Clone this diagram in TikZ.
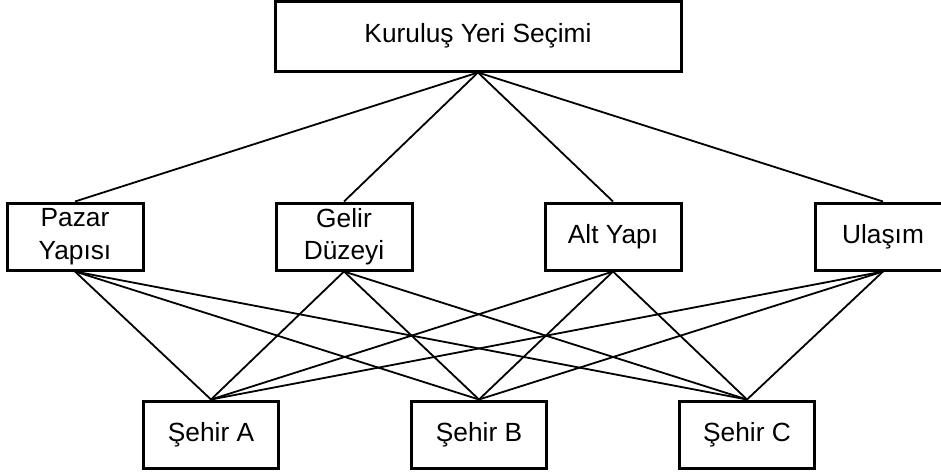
\documentclass[tikz,border=0pt]{standalone}
\usepackage{fontspec}
\setmainfont{Liberation Sans}
\begin{document}
\begin{tikzpicture}[x=1pt,y=-1pt,
  box/.style={draw=black, line width=3pt, rectangle, inner sep=0pt, align=center,
    font=\fontsize{26.3}{32.5}\selectfont, fill=white},
  topbox/.style={box, minimum width=406pt, minimum height=69.5pt},
  midbox/.style={box, minimum width=136pt, minimum height=67pt},
  botbox/.style={box, minimum width=135pt, minimum height=67pt},
  link/.style={draw=black, line width=1.8pt}]
\useasboundingbox (0,0) rectangle (941,472);
\fill[white] (0,0) rectangle (941,472);

\node[topbox] (top) at (478,36.25) {Kuruluş Yeri Seçimi};

\node[midbox] (pazar) at (75,236.5) {Pazar\\Yapısı};
\node[midbox] (gelir) at (344,236.5) {Gelir\\Düzeyi};
\node[midbox] (alt) at (613,236.5) {Alt Yapı};
\node[midbox] (ulasim) at (883,236.5) {Ulaşım};

\node[botbox] (a) at (211,434.5) {Şehir A};
\node[botbox] (b) at (479,434.5) {Şehir B};
\node[botbox] (c) at (747,434.5) {Şehir C};

\foreach \m in {pazar,gelir,alt,ulasim}{
  \draw[link] (top.south) -- (\m.north);
}
\foreach \m in {pazar,gelir,alt,ulasim}{
  \foreach \s in {a,b,c}{
    \draw[link] (\m.south) -- (\s.north);
  }
}
\end{tikzpicture}
\end{document}
